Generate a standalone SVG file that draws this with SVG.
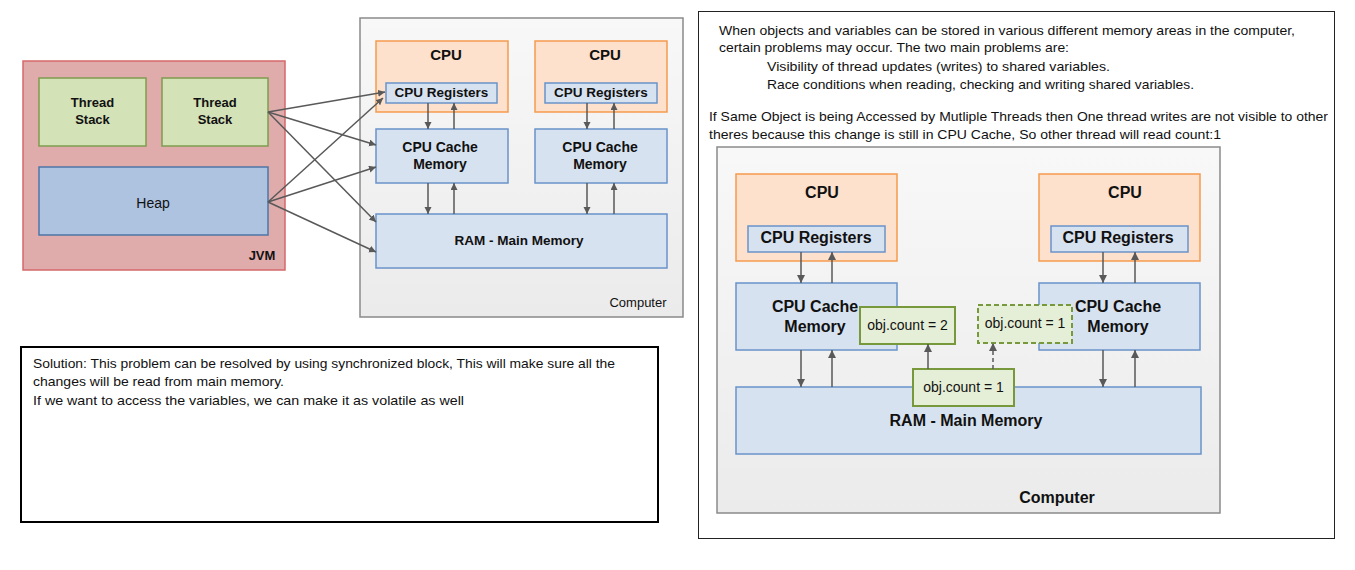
<svg xmlns="http://www.w3.org/2000/svg" width="1355" height="570" viewBox="0 0 1355 570">
<defs>
<linearGradient id="comp" x1="0" y1="0" x2="0" y2="1">
<stop offset="0" stop-color="#f8f8f8"/><stop offset="1" stop-color="#ebebeb"/>
</linearGradient>
<marker id="ah" markerUnits="userSpaceOnUse" markerWidth="9" markerHeight="9" refX="8" refY="4" orient="auto">
<path d="M0,0 L8,4 L0,8 z" fill="#595959"/>
</marker>
<marker id="ahs" markerUnits="userSpaceOnUse" markerWidth="8" markerHeight="8" refX="7" refY="3.5" orient="auto">
<path d="M0,0 L7,3.5 L0,7 z" fill="#595959"/>
</marker>
</defs>
<style>
.t{font-family:"Liberation Sans",Arial,sans-serif;fill:#111}
.b{font-weight:bold}
.p{font-family:"Liberation Sans",Arial,sans-serif;font-size:13px;fill:#111}
.comp{fill:url(#comp);stroke:#8a8a8a;stroke-width:1.5}
.cpu{fill:#fde1cc;stroke:#f59a4d;stroke-width:1.5}
.mem{fill:#d7e2f0;stroke:#6a93c9;stroke-width:1.5}
.obj{fill:#e5eed6;stroke:#78983c;stroke-width:2}
.ln{stroke:#595959;stroke-width:1.5;fill:none}
</style>

<!-- JVM -->
<g id="jvm">
<rect x="23" y="61" width="262" height="209" fill="#e0abab" stroke="#d4696b" stroke-width="1.5"/>
<text class="t b" x="262" y="260" font-size="13" text-anchor="middle">JVM</text>
</g>
<g id="threadstack1">
<rect x="39" y="78" width="107" height="68" fill="#d4e2b8" stroke="#7e9c4e" stroke-width="1.5"/>
<text class="t b" x="92.5" y="107" font-size="13" text-anchor="middle">Thread</text>
<text class="t b" x="92.5" y="124" font-size="13" text-anchor="middle">Stack</text>
</g>
<g id="threadstack2">
<rect x="162" y="78" width="106" height="68" fill="#d4e2b8" stroke="#7e9c4e" stroke-width="1.5"/>
<text class="t b" x="215" y="107" font-size="13" text-anchor="middle">Thread</text>
<text class="t b" x="215" y="124" font-size="13" text-anchor="middle">Stack</text>
</g>
<g id="heap">
<rect x="39" y="167" width="229" height="68" fill="#adc3e0" stroke="#4f75a7" stroke-width="1.5"/>
<text class="t" x="153" y="208" font-size="14" text-anchor="middle">Heap</text>
</g>

<!-- Left computer -->
<g id="computer1">
<rect class="comp" x="360" y="18" width="323" height="299"/>
<text class="t" x="638" y="307" font-size="13" text-anchor="middle">Computer</text>
</g>
<g id="cpu1a">
<rect class="cpu" x="376" y="41" width="132" height="71"/>
<text class="t b" x="446" y="60" font-size="15" text-anchor="middle">CPU</text>
</g>
<g id="reg1a">
<rect class="mem" x="386" y="83" width="111" height="20"/>
<text class="t b" x="441.5" y="97" font-size="13.5" text-anchor="middle">CPU Registers</text>
</g>
<g id="cpu2a">
<rect class="cpu" x="535" y="41" width="132" height="71"/>
<text class="t b" x="605" y="60" font-size="15" text-anchor="middle">CPU</text>
</g>
<g id="reg2a">
<rect class="mem" x="545" y="83" width="112" height="20"/>
<text class="t b" x="601" y="97" font-size="13.5" text-anchor="middle">CPU Registers</text>
</g>
<g id="cache1a">
<rect class="mem" x="376" y="129" width="132" height="54"/>
<text class="t b" x="440" y="152" font-size="14" text-anchor="middle">CPU Cache</text>
<text class="t b" x="440" y="169" font-size="14" text-anchor="middle">Memory</text>
</g>
<g id="cache2a">
<rect class="mem" x="535" y="129" width="132" height="54"/>
<text class="t b" x="600" y="152" font-size="14" text-anchor="middle">CPU Cache</text>
<text class="t b" x="600" y="169" font-size="14" text-anchor="middle">Memory</text>
</g>
<g id="ram1">
<rect class="mem" x="376" y="214" width="291" height="54"/>
<text class="t b" x="519" y="245" font-size="13.5" text-anchor="middle">RAM - Main Memory</text>
</g>

<!-- Right panel -->
<g id="panel">
<rect x="698.5" y="11.5" width="636" height="527" fill="#fff" stroke="#222" stroke-width="1"/>
<text class="p" x="719" y="35" textLength="576" lengthAdjust="spacingAndGlyphs">When objects and variables can be stored in various different memory areas in the computer,</text>
<text class="p" x="719" y="52" textLength="350" lengthAdjust="spacingAndGlyphs">certain problems may occur. The two main problems are:</text>
<text class="p" x="767" y="71" textLength="343" lengthAdjust="spacingAndGlyphs">Visibility of thread updates (writes) to shared variables.</text>
<text class="p" x="767" y="89" textLength="427" lengthAdjust="spacingAndGlyphs">Race conditions when reading, checking and writing shared variables.</text>
<text class="p" x="709" y="121" textLength="619" lengthAdjust="spacingAndGlyphs">If Same Object is being Accessed by Mutliple Threads then One thread writes are not visible to other</text>
<text class="p" x="709" y="139" textLength="512" lengthAdjust="spacingAndGlyphs">theres because this change is still in CPU Cache, So other thread will read count:1</text>
</g>
<g id="computer2">
<rect class="comp" x="717" y="147" width="503" height="366"/>
<text class="t b" x="1057" y="503" font-size="16" text-anchor="middle">Computer</text>
</g>
<g id="cpu1b">
<rect class="cpu" x="736" y="174" width="161" height="87"/>
<text class="t b" x="822" y="198" font-size="16" text-anchor="middle">CPU</text>
</g>
<g id="reg1b">
<rect class="mem" x="748" y="226" width="137" height="26"/>
<text class="t b" x="816" y="243" font-size="16" text-anchor="middle">CPU Registers</text>
</g>
<g id="cpu2b">
<rect class="cpu" x="1039" y="174" width="161" height="87"/>
<text class="t b" x="1125" y="198" font-size="16" text-anchor="middle">CPU</text>
</g>
<g id="reg2b">
<rect class="mem" x="1051" y="226" width="137" height="26"/>
<text class="t b" x="1118" y="243" font-size="16" text-anchor="middle">CPU Registers</text>
</g>
<g id="cache1b">
<rect class="mem" x="736" y="283" width="161" height="67"/>
<text class="t b" x="815" y="312" font-size="16" text-anchor="middle">CPU Cache</text>
<text class="t b" x="815" y="332" font-size="16" text-anchor="middle">Memory</text>
</g>
<g id="cache2b">
<rect class="mem" x="1039" y="283" width="161" height="67"/>
<text class="t b" x="1118" y="312" font-size="16" text-anchor="middle">CPU Cache</text>
<text class="t b" x="1118" y="332" font-size="16" text-anchor="middle">Memory</text>
</g>
<g id="ram2">
<rect class="mem" x="736" y="387" width="465" height="67"/>
<text class="t b" x="966" y="426" font-size="16" text-anchor="middle">RAM - Main Memory</text>
</g>
<g id="obj2">
<rect class="obj" x="860" y="307" width="95" height="37"/>
<text class="t" x="907.5" y="330" font-size="14" text-anchor="middle">obj.count = 2</text>
</g>
<g id="objdash">
<rect class="obj" x="978" y="305" width="94" height="38" stroke-dasharray="5,3"/>
<text class="t" x="1025" y="328" font-size="14" text-anchor="middle">obj.count = 1</text>
</g>
<g id="obj1">
<rect class="obj" x="913" y="369" width="101" height="37"/>
<text class="t" x="963.5" y="392" font-size="14" text-anchor="middle">obj.count = 1</text>
</g>

<!-- Solution box -->
<g id="solution">
<rect x="21" y="347" width="637" height="175" fill="#fff" stroke="#000" stroke-width="2"/>
<text class="p" x="33" y="368" textLength="582" lengthAdjust="spacingAndGlyphs">Solution: This problem can be resolved by using synchronized block, This will make sure all the</text>
<text class="p" x="33" y="386" textLength="251" lengthAdjust="spacingAndGlyphs">changes will be read from main memory.</text>
<text class="p" x="33" y="405" textLength="431" lengthAdjust="spacingAndGlyphs">If we want to access the variables, we can make it as volatile as well</text>
</g>

<!-- Connectors -->
<g id="connectors">
<line class="ln" x1="268" y1="112" x2="385" y2="92" marker-end="url(#ahs)"/>
<line class="ln" x1="268" y1="112" x2="376" y2="145" marker-end="url(#ahs)"/>
<line class="ln" x1="268" y1="112" x2="376" y2="222" marker-end="url(#ahs)"/>
<line class="ln" x1="268" y1="202" x2="383" y2="98" marker-end="url(#ahs)"/>
<line class="ln" x1="268" y1="202" x2="376" y2="167" marker-end="url(#ahs)"/>
<line class="ln" x1="268" y1="202" x2="376" y2="252" marker-end="url(#ahs)"/>
<line class="ln" x1="428" y1="103" x2="428" y2="129" marker-end="url(#ahs)"/>
<line class="ln" x1="454" y1="129" x2="454" y2="103" marker-end="url(#ahs)"/>
<line class="ln" x1="587" y1="103" x2="587" y2="129" marker-end="url(#ahs)"/>
<line class="ln" x1="614" y1="129" x2="614" y2="103" marker-end="url(#ahs)"/>
<line class="ln" x1="428" y1="183" x2="428" y2="214" marker-end="url(#ahs)"/>
<line class="ln" x1="454" y1="214" x2="454" y2="183" marker-end="url(#ahs)"/>
<line class="ln" x1="587" y1="183" x2="587" y2="214" marker-end="url(#ahs)"/>
<line class="ln" x1="614" y1="214" x2="614" y2="183" marker-end="url(#ahs)"/>
<line class="ln" x1="801" y1="252" x2="801" y2="283" marker-end="url(#ah)"/>
<line class="ln" x1="832" y1="283" x2="832" y2="252" marker-end="url(#ah)"/>
<line class="ln" x1="1103" y1="252" x2="1103" y2="283" marker-end="url(#ah)"/>
<line class="ln" x1="1135" y1="283" x2="1135" y2="252" marker-end="url(#ah)"/>
<line class="ln" x1="801" y1="350" x2="801" y2="387" marker-end="url(#ah)"/>
<line class="ln" x1="832" y1="387" x2="832" y2="350" marker-end="url(#ah)"/>
<line class="ln" x1="1103" y1="350" x2="1103" y2="387" marker-end="url(#ah)"/>
<line class="ln" x1="1135" y1="387" x2="1135" y2="350" marker-end="url(#ah)"/>
<line class="ln" x1="928" y1="369" x2="928" y2="344" marker-end="url(#ah)"/>
<line class="ln" x1="993" y1="369" x2="993" y2="343" stroke-dasharray="4,3" marker-end="url(#ah)"/>
</g>
</svg>
